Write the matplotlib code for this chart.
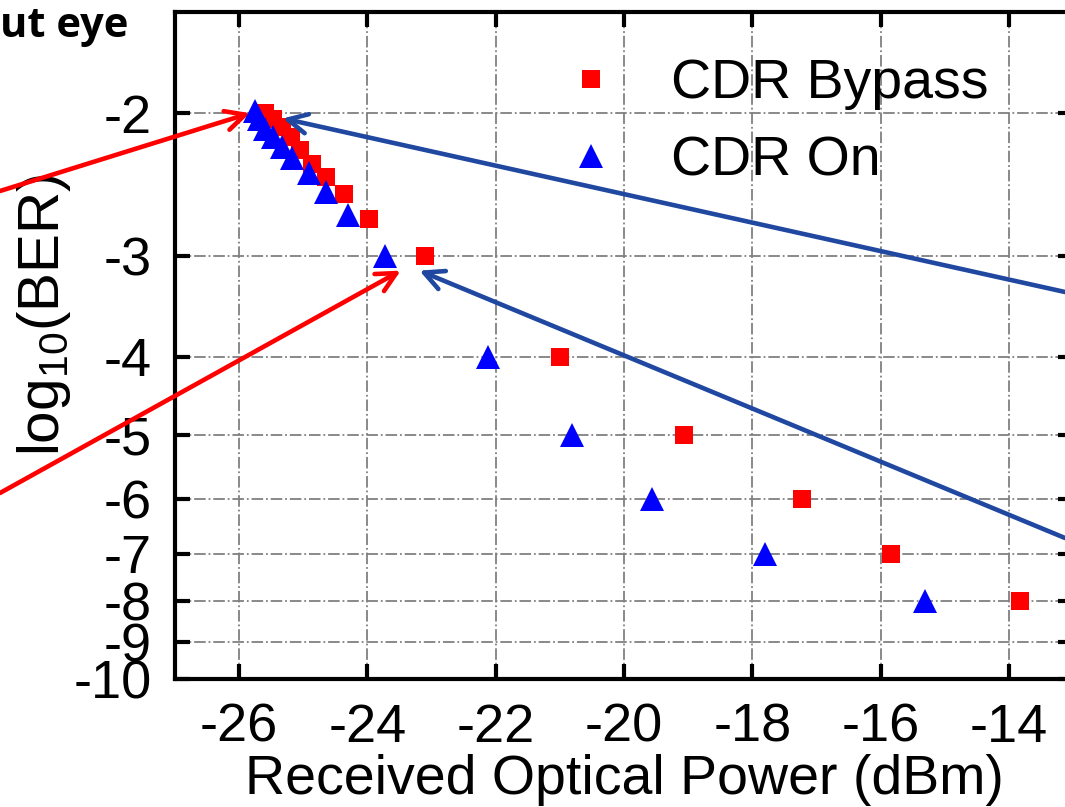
import matplotlib
matplotlib.use('Agg')
import matplotlib.pyplot as plt
import numpy as np
from matplotlib.ticker import FixedLocator

plt.rcParams['font.family'] = ['Liberation Sans', 'DejaVu Sans']
plt.rcParams['mathtext.fontset'] = 'custom'
plt.rcParams['mathtext.rm'] = 'Liberation Sans'

# 数据: 接收光功率 (dBm) 与 log10(BER)
bypass_power = [-25.60, -25.47, -25.33, -25.19, -25.05, -24.87, -24.65, -24.37, -23.97,
                -23.10, -21.00, -19.06, -17.23, -15.84, -13.83]
bypass_ber = [-2.00, -2.035, -2.08, -2.14, -2.22, -2.31, -2.40, -2.52, -2.70,
              -3.0, -4.0, -5.0, -6.0, -7.0, -8.0]
cdr_on_power = [-25.75, -25.69, -25.60, -25.47, -25.33, -25.18, -24.91, -24.65, -24.31,
                -23.72, -22.12, -20.81, -19.56, -17.80, -15.30]
cdr_on_ber = [-1.99, -2.035, -2.09, -2.14, -2.20, -2.27, -2.37, -2.50, -2.67,
              -3.0, -4.0, -5.0, -6.0, -7.0, -8.0]

x_ticks = [-26, -24, -22, -20, -18, -16, -14]
y_ticks = [-2, -3, -4, -5, -6, -7, -8, -9, -10]

fig = plt.figure(figsize=(10.65, 8.07), dpi=100)
ax = fig.add_axes([175 / 1065, 1 - 679 / 807, (1073 - 175) / 1065, (679 - 12) / 807])


# BER 坐标: -log10(-y)
def fwd(y):
    with np.errstate(invalid='ignore', divide='ignore'):
        return -np.log10(-np.asarray(y, dtype=float))


def inv(v):
    return -10 ** (-np.asarray(v, dtype=float))


ax.set_yscale('function', functions=(fwd, inv))

ax.plot(bypass_power, bypass_ber, 's', color='#ff0000', ms=13.5, mew=0, label='CDR Bypass', zorder=3)
ax.plot(cdr_on_power, cdr_on_ber, '^', color='#0000ff', ms=17, mew=0, label='CDR On', zorder=4)

ax.set_xlim(-27, -13)
ax.set_ylim(-10, -1.5)
ax.xaxis.set_major_locator(FixedLocator(x_ticks))
ax.yaxis.set_major_locator(FixedLocator(y_ticks))
ax.yaxis.set_minor_locator(FixedLocator([]))
ax.set_xticklabels([str(t) for t in x_ticks])
ax.set_yticklabels([str(t) for t in y_ticks])

ax.grid(True, color='#808080', linestyle='-.', linewidth=1.3)
ax.tick_params(direction='in', length=11, width=3, labelsize=39, pad=17,
               top=True, right=True)
for s in ax.spines.values():
    s.set_linewidth(3)

ax.set_xlabel('Received Optical Power (dBm)', fontsize=40, labelpad=1)
ax.set_ylabel(r'$\mathregular{log_{10}(BER)}$', fontsize=42)
ax.yaxis.set_label_coords((73 - 175) / 898, (679 - 315) / 667)

ax.legend(loc='upper left', bbox_to_anchor=(569 / 1065, 1 - 58 / 807),
          bbox_transform=fig.transFigure, frameon=False, fontsize=40,
          handlelength=0.8, handletextpad=1.04, labelspacing=0.45,
          borderpad=0, borderaxespad=0)

# 箭头
red = '#ff0000'
blue = '#2048a0'
aprops = dict(arrowstyle='->,head_length=0.7,head_width=0.35', lw=3.3, mutation_scale=20,
              shrinkA=0, shrinkB=0)
ax.annotate('', xy=(-25.83, -2.0), xytext=(0, 1 - 191 / 807), textcoords='figure fraction',
            arrowprops=dict(aprops, color=red), annotation_clip=False)
ax.annotate('', xy=(-23.48, -3.13), xytext=(0, 1 - 493 / 807), textcoords='figure fraction',
            arrowprops=dict(aprops, color=red), annotation_clip=False)
ax.annotate('', xy=(-25.32, -2.03), xytext=(1, 1 - 292 / 807), textcoords='figure fraction',
            arrowprops=dict(aprops, color=blue), annotation_clip=False)
ax.annotate('', xy=(-23.19, -3.13), xytext=(1, 1 - 538 / 807), textcoords='figure fraction',
            arrowprops=dict(aprops, color=blue), annotation_clip=False)

fig.text(0.0, 1 - 37 / 807, 'ut eye', fontsize=30, fontweight='bold', family='Open Sans',
         ha='left', va='baseline')

fig.savefig('out.png', dpi=100)
